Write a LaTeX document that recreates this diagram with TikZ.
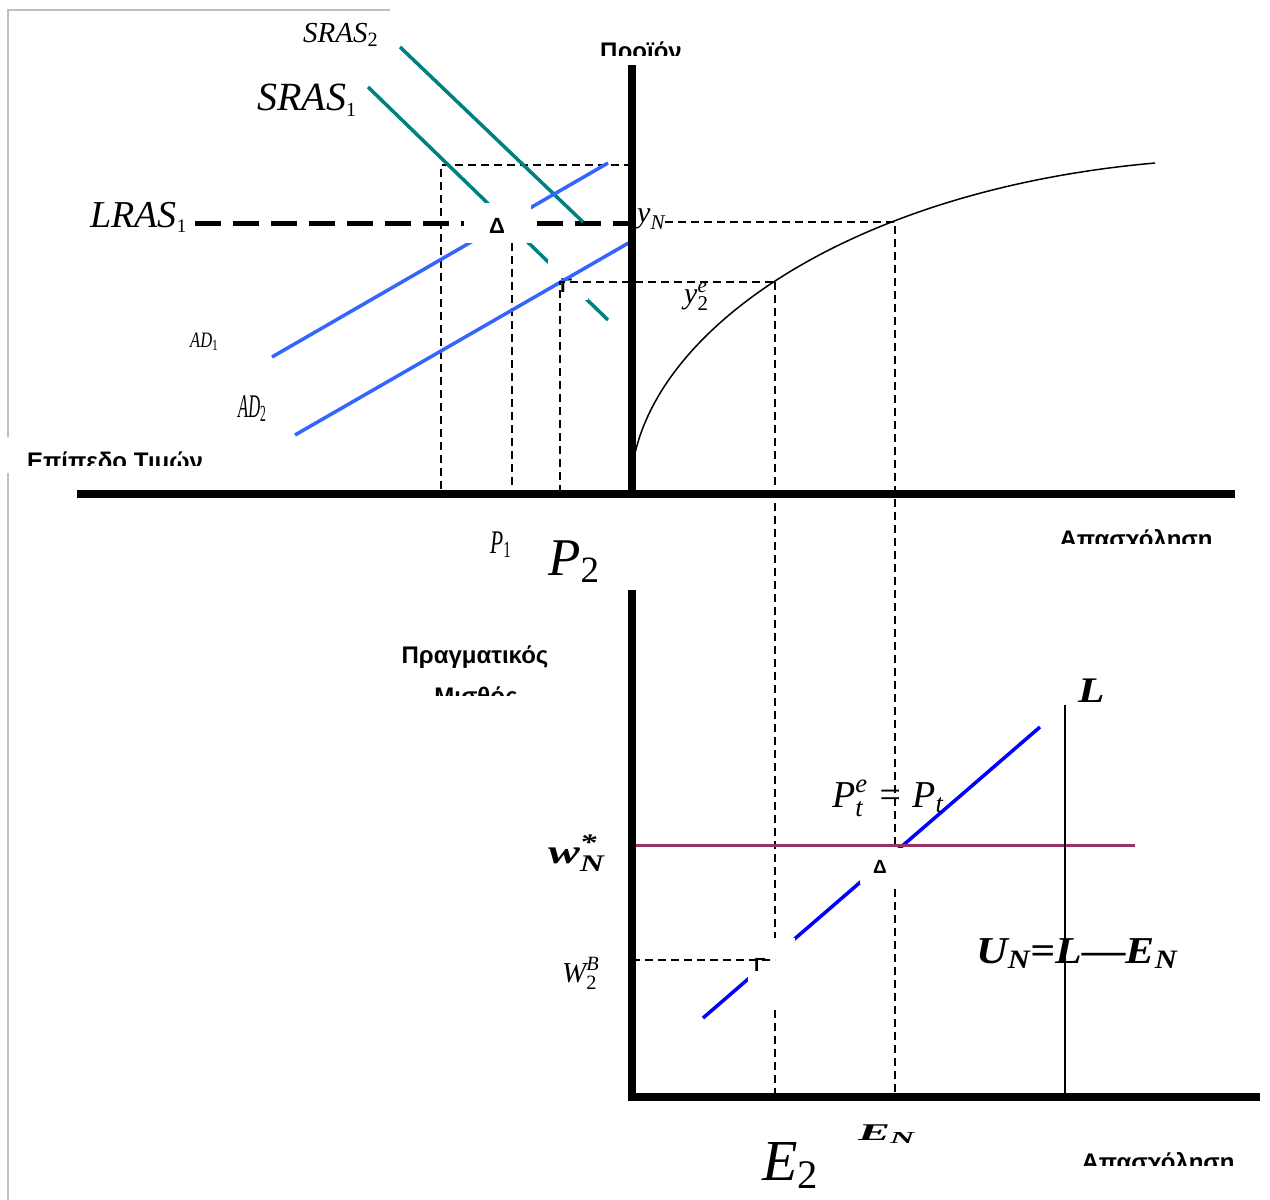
\documentclass[tikz,border=0pt]{standalone}
\usepackage{fix-cm}
\usepackage{amsmath}
\usepackage{graphicx}
\usepackage{fontspec}
\setmainfont{Liberation Serif}
\newfontfamily\axisfont{Liberation Sans}
\definecolor{srasteal}{RGB}{0,128,128}
\definecolor{adblue}{RGB}{51,102,255}
\definecolor{laborblue}{RGB}{0,0,255}
\definecolor{wageline}{RGB}{153,51,102}
\definecolor{framegray}{RGB}{192,192,192}
\newcommand\fsz[1]{\fontsize{#1}{#1}\selectfont}
\newcommand\isub[2]{$\text{#1}_{\text{#2}}$}
\newcommand\isubsm[2]{$\text{#1}_{\scriptscriptstyle\text{#2}}$}
\newcommand\isubsup[3]{$\text{#1}^{\text{#2}}_{\text{#3}}$}
\tikzset{
  axis/.style={line width=7.5pt},
  guide/.style={line width=1.4pt, dash pattern=on 8pt off 5pt},
  lras/.style={line width=5pt, dash pattern=on 26pt off 12pt},
  sras/.style={srasteal, line width=3.5pt},
  adline/.style={adblue, line width=3.5pt},
  greek/.style={font=\axisfont\bfseries\fsz{24}, inner sep=0pt, anchor=base},
  ital/.style={inner sep=0pt, anchor=base west},
  markbox/.style={fill=white, inner sep=0pt},
  pointlbl/.style={font=\axisfont\bfseries\fsz{22}, inner sep=0pt}
}
\begin{document}
\begin{tikzpicture}[x=1pt,y=-1pt]
  \useasboundingbox (0,0) rectangle (1270,1200);
  \draw[framegray, line width=2pt] (390,10) -- (8,10) -- (8,437);
  \draw[framegray, line width=2pt] (8,473) -- (8,1200);

  \coordinate (sras1a) at (368,87);  \coordinate (sras1b) at (608,320);
  \coordinate (sras2a) at (400,47);  \coordinate (sras2b) at (583,222);
  \coordinate (ad1a) at (272,357);   \coordinate (ad1b) at (608,163);
  \coordinate (ad2a) at (295,435);   \coordinate (ad2b) at (632,241);
  \coordinate (laba) at (703,1018);  \coordinate (labb) at (1040,727);

  \draw[guide] (632,165) -| (441,493);
  \draw[guide] (512,243) -- (512,493);
  \draw[guide] (665,222) -- (895,222) -- (895,1097);
  \draw[guide] (775,282) -- (775,1097);
  \draw[lras] (195,223) -- (632,223);
  \draw[sras] (sras1a) -- (sras1b);
  \draw[sras] (sras2a) -- (sras2b);
  \draw[adline] (ad1a) -- (ad1b);
  \draw[laborblue, line width=3.5pt] (laba) -- (labb);

  \node[markbox, minimum width=67pt, minimum height=40pt] (ptA) at (497,223) {};
  \node[markbox, minimum width=40pt, minimum height=40pt] (ptG) at (568,280) {};
  \node[markbox, minimum width=45pt, minimum height=36pt] (wA) at (882,866) {};
  \node[markbox, minimum width=47pt, minimum height=67pt] (wG) at (771,971) {};
  \node[pointlbl] at (497,226) {Δ};
  \node[pointlbl, font=\axisfont\bfseries\fsz{19}] at (880,867) {Δ};
  \begin{scope}
    \clip (555,276) rectangle (585,292);
    \node[pointlbl, font=\axisfont\bfseries\fsz{20}, anchor=north west] at (560,279) {Γ};
  \end{scope}
  \begin{scope}
    \clip (750,955) rectangle (775,971);
    \node[pointlbl, font=\axisfont\bfseries\fsz{19}, anchor=north west] at (754,958) {Γ};
  \end{scope}

  \draw[adline] (ad2a) -- (ad2b);
  \draw[guide] (560,493) |- (775,282);
  \draw[guide] (632,960) -- (775,960);
  \draw[wageline, line width=3pt] (632,845) -- (1135,845);
  \draw[line width=1.6pt] (1065,705) -- (1065,1097);
  \draw[line width=1.5pt] (632,470) .. controls (650,330) and (850,190) .. (1155,163);

  \draw[axis] (632,65) -- (632,497);
  \draw[axis] (77,494) -- (1235,494);
  \draw[axis] (632,590) -- (632,1100);
  \draw[axis] (628,1097) -- (1260,1097);

  \begin{scope}
    \clip (580,30) rectangle (700,55);
    \node[greek] (output) at (641,59) {Προϊόν};
  \end{scope}
  \begin{scope}
    \clip (15,440) rectangle (215,465);
    \node[greek] (pricelevel) at (115,469) {Επίπεδο Τιμών};
  \end{scope}
  \begin{scope}
    \clip (1040,518) rectangle (1230,543);
    \node[greek] (employ1) at (1136,547) {Απασχόληση};
  \end{scope}
  \node[greek] (realwage) at (475,663) {Πραγματικός};
  \begin{scope}
    \clip (420,680) rectangle (530,695);
    \node[greek] (wage) at (476,704) {Μισθός};
  \end{scope}
  \begin{scope}
    \clip (1060,1140) rectangle (1250,1165);
    \node[greek] (employ2) at (1158,1170) {Απασχόληση};
  \end{scope}

  \node[ital, font=\itshape\fsz{29}] (sras2) at (303,42) {\isub{SRAS}{\upshape 2}};
  \node[ital, font=\itshape\fsz{40}] (sras1) at (257,110) {\isubsm{SRAS}{\upshape 1}};
  \node[ital, font=\itshape\fsz{38}] (lras1) at (90,227) {\isubsm{LRAS}{\upshape 1}};
  \node[ital, font=\itshape\fsz{22}] (ad1) at (190,347) {\scalebox{0.75}[1]{\isub{AD}{\upshape 1}}};
  \node[ital, font=\itshape\fsz{33}] (ad2) at (238,417) {\scalebox{0.5}[1]{\isub{AD}{\upshape 2}}};
  \node[ital, font=\itshape\fsz{33}] (p1) at (490,553) {\scalebox{0.65}[1]{\isub{P}{\upshape 1}}};
  \node[ital, font=\itshape\fsz{53}] (p2) at (548,575) {\isub{P}{\upshape 2}};
  \node[ital, font=\itshape\fsz{30}] (yn) at (637,222) {\isub{y}{N}};
  \node[ital, font=\itshape\fsz{30}] (y2e) at (684,303) {\isubsup{y}{e}{\upshape 2}};
  \node[ital, font=\bfseries\itshape\fsz{34}] (wn) at (548,863) {\scalebox{1.4}[1]{\isubsup{w}{*}{N}}};
  \node[ital, font=\itshape\fsz{29}] (w2b) at (562,982) {\isubsup{W}{B}{\upshape 2}};
  \node[ital, font=\itshape\fsz{38}] (pte) at (832,807) {\isubsup{P}{e}{t} = \isub{P}{t}};
  \node[ital, font=\bfseries\itshape\fsz{36}] (lab) at (1078,702) {\scalebox{1.2}[1]{L}};
  \node[ital, font=\bfseries\itshape\fsz{38}] (un) at (976,963) {\scalebox{1.15}[1]{\isub{U}{N}=L—\isub{E}{N}}};
  \node[ital, font=\itshape\fsz{58}] (e2) at (762,1180) {\isub{E}{\upshape 2}};
  \node[ital, font=\bfseries\itshape\fsz{24}] (en) at (858,1140) {\scalebox{2}[1]{\isub{E}{N}}};
\end{tikzpicture}
\end{document}
